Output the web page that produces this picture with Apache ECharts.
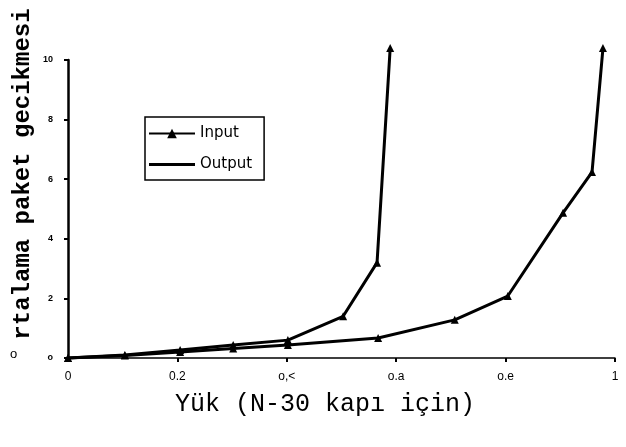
<!DOCTYPE html>
<html>
<head>
<meta charset="utf-8">
<style>
  html, body { margin: 0; padding: 0; background: #fff; }
  #chart { width: 626px; height: 447px; }
</style>
<script src="https://cdn.jsdelivr.net/npm/echarts@6/dist/echarts.min.js"></script>
</head>
<body>
<div id="chart"></div>
<script>
// load values (x) and delay values (y)
const inputX = [0, 0.104, 0.205, 0.302, 0.402, 0.503, 0.565, 0.589];
const inputY = [0, 0.1, 0.27, 0.44, 0.6, 1.4, 3.2, 10.4];
const outputX = [0, 0.104, 0.205, 0.302, 0.402, 0.567, 0.707, 0.804, 0.905, 0.958, 0.978];
const outputY = [0, 0.08, 0.2, 0.32, 0.44, 0.67, 1.28, 2.08, 4.87, 6.24, 10.4];
const xTickLabels = ['0', '0.2', 'o,<', 'o.a', 'o.e', '1'];
const yTickLabels = ['o', '2', '4', '6', '8', '10'];

(function () {
    const myChart = echarts.init(document.getElementById('chart'));

    const pairs = (xs, ys) => xs.map((x, i) => [x, ys[i]]);

    const option = {
        animation: false,
        backgroundColor: '#fff',
        grid: { left: 68, right: 11, top: 60, bottom: 89 },
        legend: {
            orient: 'vertical',
            left: 145,
            top: 117,
            padding: [9, 12, 8, 3],
            itemGap: 16,
            itemWidth: 46,
            itemHeight: 12,
            borderColor: '#000',
            borderWidth: 1.5,
            textStyle: { color: '#000', fontSize: 15, fontFamily: 'DejaVu Sans' },
            data: [
                { name: 'Input' },
                { name: 'Output', icon: 'path://M0,0L30,0L30,2L0,2Z' }
            ]
        },
        xAxis: {
            type: 'value',
            min: 0,
            max: 1,
            interval: 0.2,
            axisLine: { lineStyle: { color: '#000', width: 1.5 } },
            axisTick: { show: true, length: 4, lineStyle: { color: '#000', width: 2 } },
            splitLine: { show: false },
            axisLabel: {
                margin: 13,
                color: '#000',
                fontSize: 12,
                fontFamily: 'Liberation Sans',
                formatter: function (v) {
                    return xTickLabels[Math.round(v / 0.2)];
                }
            }
        },
        yAxis: {
            type: 'value',
            min: 0,
            max: 10,
            interval: 2,
            axisLine: { show: true, lineStyle: { color: '#000', width: 2.5 } },
            axisTick: { show: true, length: 4, lineStyle: { color: '#000', width: 2 } },
            splitLine: { show: false },
            axisLabel: {
                margin: 15,
                color: '#000',
                fontSize: 9,
                fontWeight: 'bold',
                fontFamily: 'Liberation Sans',
                formatter: function (v) {
                    return yTickLabels[Math.round(v / 2)];
                }
            }
        },
        series: [
            {
                name: 'Input',
                type: 'line',
                data: pairs(inputX, inputY),
                clip: false,
                symbol: 'triangle',
                symbolSize: 8,
                lineStyle: { color: '#000', width: 3 },
                itemStyle: { color: '#000' }
            },
            {
                name: 'Output',
                type: 'line',
                data: pairs(outputX, outputY),
                clip: false,
                symbol: 'triangle',
                symbolSize: 8,
                lineStyle: { color: '#000', width: 3 },
                itemStyle: { color: '#000' }
            }
        ],
        graphic: [
            {
                type: 'text',
                x: 23,
                y: 174,
                rotation: Math.PI / 2,
                style: {
                    text: 'rtalama paket gecikmesi',
                    fill: '#000',
                    font: 'bold 24px "Liberation Mono", monospace',
                    textAlign: 'center',
                    textVerticalAlign: 'middle'
                }
            },
            {
                type: 'text',
                left: 10,
                top: 348,
                style: { text: 'o', fill: '#000', font: '13px "Liberation Sans"' }
            },
            {
                type: 'text',
                left: 175,
                top: 392,
                style: {
                    text: 'Yük (N-30 kapı için)',
                    fill: '#000',
                    font: '25px "Liberation Mono", monospace'
                }
            }
        ]
    };

    myChart.setOption(option);
    window.addEventListener('resize', function () {
        myChart.resize();
    });
})();
</script>
</body>
</html>
